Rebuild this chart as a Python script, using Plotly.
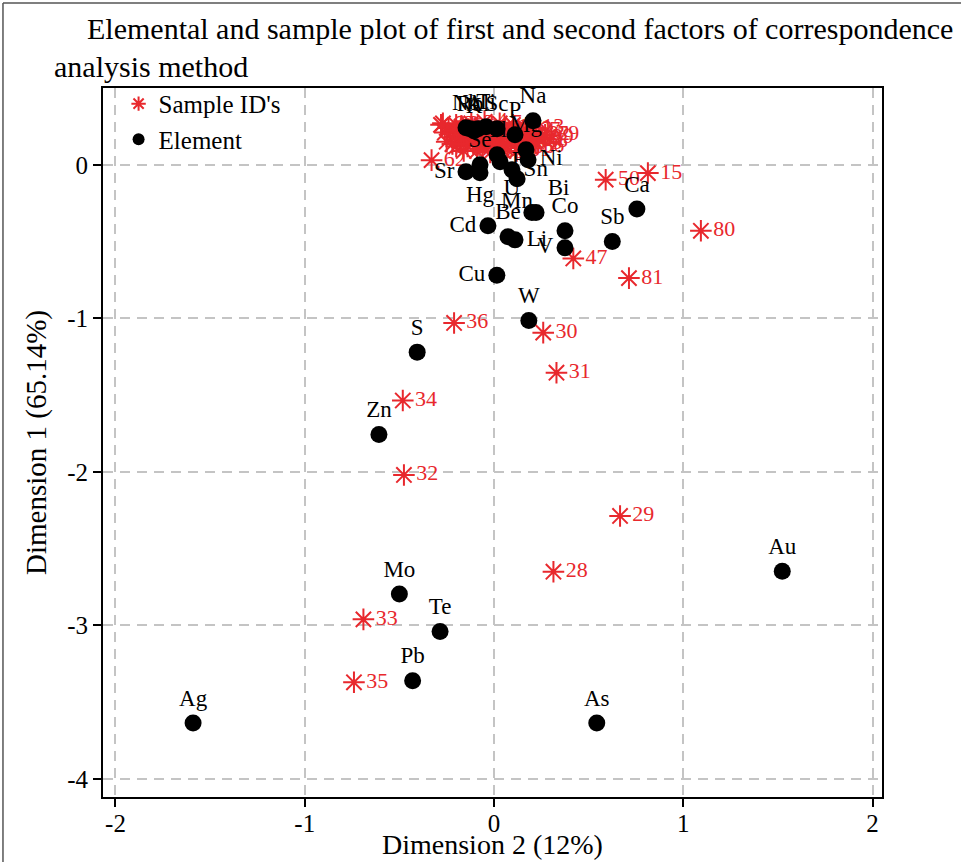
import plotly.graph_objects as go

# ---- Element scores (Dimension 2 on x, Dimension 1 on y) ----
elem_names = ["Na", "Nb", "Rb", "K", "Ti", "Al", "Sc", "P", "Tl", "Mg", "Ni", "Fe",
              "Se", "Sn", "Sr", "Hg", "Mn", "U", "Bi", "Cd", "Be", "Li", "Co", "V",
              "Sb", "Ca", "Cu", "W", "S", "Zn", "Mo", "Te", "Pb", "Ag", "As", "Au"]
elem_x = [0.206, -0.148, -0.127, -0.106, -0.042, -0.085, 0.016, 0.111, 0.016, 0.169, 0.180, 0.032,
          -0.074, 0.095, -0.148, -0.074, 0.122, 0.200, 0.222, -0.032, 0.074, 0.111, 0.375, 0.375,
          0.625, 0.755, 0.015, 0.184, -0.406, -0.608, -0.500, -0.285, -0.430, -1.590, 0.543, 1.523]
elem_y = [0.287, 0.241, 0.235, 0.221, 0.248, 0.235, 0.235, 0.195, 0.065, 0.098, 0.033, 0.020,
          0.000, -0.033, -0.046, -0.052, -0.091, -0.310, -0.310, -0.397, -0.469, -0.489, -0.430, -0.540,
          -0.500, -0.288, -0.720, -1.014, -1.220, -1.757, -2.795, -3.040, -3.360, -3.635, -3.635, -2.647]
elem_pos = ["top center", "top center", "top center", "top center", "top center", "top center",
            "top center", "top center", "top center", "top center", "middle right", "middle right",
            "top center", "middle right", "middle left", "bottom center", "bottom center", "top left",
            "top right", "middle left", "top center", "middle right", "top center", "middle left",
            "top center", "top center", "middle left", "top center", "top center", "top center",
            "top center", "top center", "top center", "top center", "top center", "top center"]

# ---- Sample scores ----
sample_ids = ["15", "50", "80", "47", "81", "36", "30", "31", "34", "32", "29", "28", "33", "35",
              "1", "2", "3", "4", "5", "6", "7", "8", "9", "10", "11", "12", "13", "14",
              "16", "17", "18", "19", "20", "21", "22", "23", "24", "25", "26", "27",
              "37", "38", "39", "40", "41", "42", "43", "44", "45", "46", "48", "49",
              "51", "52", "53", "54", "55", "56", "57", "58", "59", "60", "61", "62", "63",
              "64", "65", "66", "67", "68", "69", "70", "71", "72", "73", "74", "75", "76",
              "77", "78", "79"]
sample_x = [0.813, 0.590, 1.093, 0.419, 0.713, -0.211, 0.260, 0.330, -0.482, -0.476, 0.666, 0.314, -0.690, -0.740,
            -0.27, -0.20, -0.12, -0.05, 0.03, 0.10, -0.24, -0.17, -0.10, -0.02, 0.06, 0.13, 0.19, -0.26,
            -0.19, -0.13, -0.07, 0.00, 0.08, 0.15, 0.22, -0.22, -0.15, -0.09, -0.03, 0.04,
            0.11, 0.17, 0.24, -0.25, -0.18, -0.11, -0.04, 0.02, 0.09, 0.16, 0.21, -0.20,
            -0.14, -0.06, 0.01, 0.07, 0.14, 0.19, -0.16, -0.09, -0.02, 0.05, 0.12, -0.33, -0.28,
            -0.21, -0.08, 0.04, 0.17, -0.17, -0.01, 0.13, 0.20, -0.22, -0.08, 0.05, 0.18, -0.16,
            -0.04, 0.10, 0.27]
sample_y = [-0.054, -0.097, -0.430, -0.610, -0.738, -1.030, -1.093, -1.354, -1.535, -2.020, -2.287, -2.650, -2.960, -3.370,
            0.27, 0.26, 0.27, 0.28, 0.27, 0.26, 0.24, 0.25, 0.24, 0.23, 0.24, 0.23, 0.24, 0.21,
            0.22, 0.20, 0.21, 0.21, 0.20, 0.21, 0.20, 0.18, 0.17, 0.18, 0.18, 0.17,
            0.18, 0.17, 0.18, 0.15, 0.15, 0.14, 0.15, 0.15, 0.14, 0.15, 0.15, 0.12,
            0.12, 0.11, 0.12, 0.12, 0.11, 0.12, 0.09, 0.09, 0.08, 0.09, 0.09, 0.03, 0.26,
            0.225, 0.225, 0.22, 0.225, 0.165, 0.165, 0.16, 0.165, 0.135, 0.135, 0.13, 0.14, 0.195,
            0.195, 0.19, 0.195]

SERIF = "Liberation Serif"
RED = "#e8282d"

fig = go.Figure()

fig.add_trace(go.Scatter(
    x=sample_x, y=sample_y, text=sample_ids, name="Sample ID's",
    mode="markers+text", textposition="middle right",
    marker=dict(symbol="asterisk-open", size=18, color=RED, line=dict(color=RED, width=2)),
    textfont=dict(family=SERIF, size=22, color=RED),
))

fig.add_trace(go.Scatter(
    x=elem_x, y=elem_y, text=elem_names, name="Element",
    mode="markers+text", textposition=elem_pos,
    marker=dict(symbol="circle", size=17, color="black"),
    textfont=dict(family=SERIF, size=23, color="black"),
))

axis_common = dict(
    showgrid=True, gridcolor="#c4c4c4", gridwidth=2, griddash="10px,7px",
    zeroline=False, showline=True, linecolor="black", linewidth=2, mirror=True,
    ticks="outside", ticklen=8, tickwidth=2, tickcolor="black",
    tickfont=dict(family=SERIF, size=25, color="black"),
    automargin=False,
)

fig.update_layout(
    width=961, height=862,
    margin=dict(l=103, r=79, t=88, b=65),
    paper_bgcolor="white", plot_bgcolor="white",
    font=dict(family=SERIF, color="black"),
    showlegend=True,
    legend=dict(x=0.02, y=1.01, xanchor="left", yanchor="top",
                bgcolor="rgba(0,0,0,0)", font=dict(family=SERIF, size=25, color="black"),
                itemsizing="constant", tracegroupgap=0),
    xaxis=dict(range=[-2.066, 2.05], tickvals=[-2, -1, 0, 1, 2],
               ticktext=["-2", "-1", "0", "1", "2"], ticklabelstandoff=-5, **axis_common),
    yaxis=dict(range=[-4.117, 0.50], tickvals=[0, -1, -2, -3, -4],
               ticktext=["0", "-1", "-2", "-3", "-4"],
               title=dict(text="Dimension 1 (65.14%)", font=dict(family=SERIF, size=29), standoff=12),
               **axis_common),
)

# x-axis title placed just under the tick labels
fig.add_annotation(text="Dimension 2 (12%)", xref="paper", yref="paper", x=0.5, y=-0.0903,
                   xanchor="center", yanchor="bottom", showarrow=False, borderpad=0,
                   font=dict(family=SERIF, size=28, color="black"))

# two-line heading, first line indented
fig.add_annotation(text="Elemental and sample plot of first and second factors of correspondence",
                   xref="paper", yref="paper", x=-0.023, y=1.0846, xanchor="left", yanchor="middle",
                   showarrow=False, font=dict(family=SERIF, size=30, color="black"))
fig.add_annotation(text="analysis method",
                   xref="paper", yref="paper", x=-0.066, y=1.030, xanchor="left", yanchor="middle",
                   showarrow=False, font=dict(family=SERIF, size=30, color="black"))

# thin outer frame (top and left edges)
fig.add_shape(type="line", xref="paper", yref="paper", x0=-0.1284, x1=1.12, y0=1.1199, y1=1.1199,
              line=dict(color="#555555", width=1.5))
fig.add_shape(type="line", xref="paper", yref="paper", x0=-0.1284, x1=-0.1284, y0=1.1199, y1=-0.1,
              line=dict(color="#555555", width=1.5))

fig.write_html("out.html")
